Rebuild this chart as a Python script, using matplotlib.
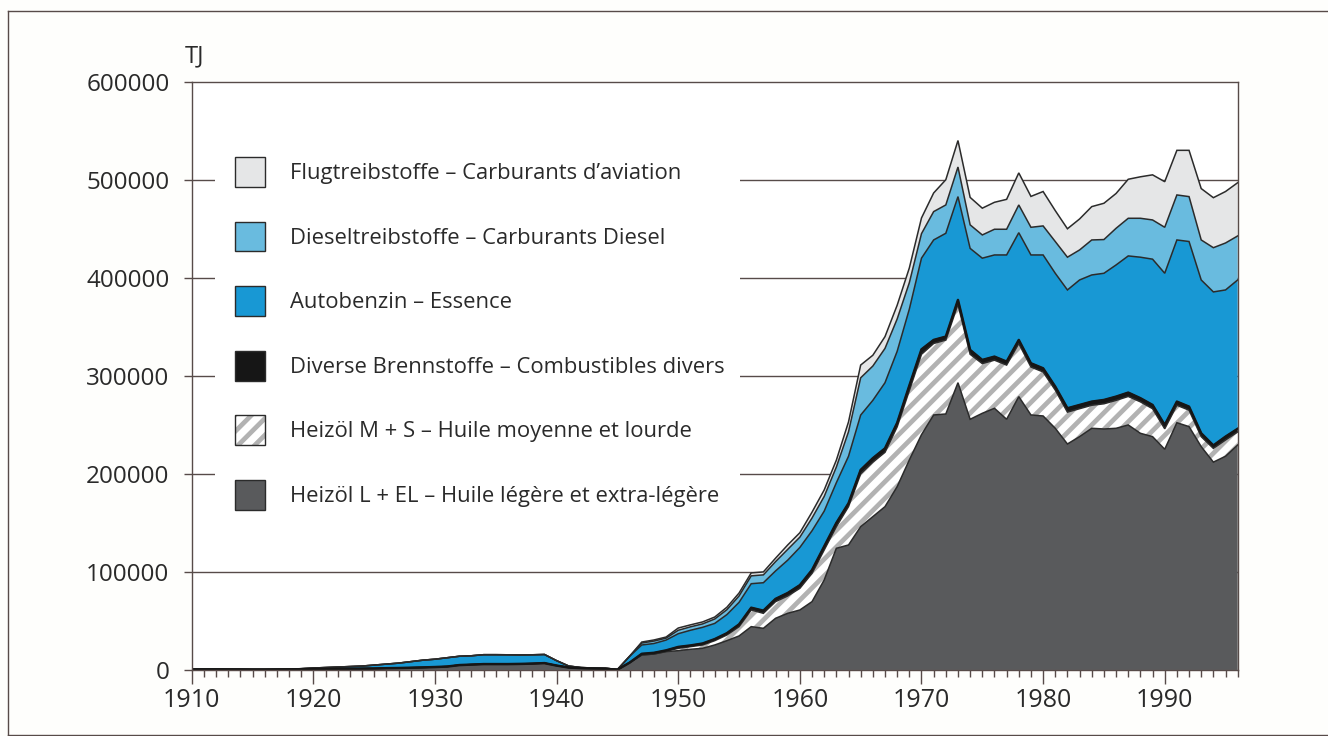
import numpy as np
import matplotlib
matplotlib.use("Agg")
import matplotlib.pyplot as plt
from matplotlib.patches import Patch, Rectangle
from matplotlib.lines import Line2D

plt.rcParams['font.family'] = ['Open Sans', 'DejaVu Sans']
plt.rcParams['hatch.linewidth'] = 3.4

years = list(range(1910, 1997))

heizoel_l_el = [500, 600, 600, 500, 500, 400, 400, 500, 600, 800,
                1000, 1100, 1200, 1300, 1400, 1500, 1800, 2000, 2300, 2600,
                3000, 3500, 5000, 5500, 6000, 6000, 6000, 6200, 6500, 7000,
                4500, 2500, 1800, 1500, 1200, 300, 7500, 15300, 16300, 18700,
                19700, 21100, 22100, 25500, 29900, 34700, 44200, 42500, 52700, 57800,
                61200, 69700, 91800, 124100, 127500, 146200, 156400, 166600, 187000, 214200,
                240000, 260100, 261100, 293000, 255700, 261800, 266900, 255700, 278800, 260100,
                259100, 246500, 230500, 238000, 246500, 245800, 246500, 249900, 241400, 238000,
                225100, 252200, 248200, 227800, 212000, 218000, 229500]
heizoel_m_s = [0] * 39 + [300,
               2400, 2700, 3400, 4400, 5800, 9500, 17000, 15300, 17000, 17700,
               22100, 28900, 30600, 22100, 39100, 53800, 55600, 55400, 61000, 70800,
               82000, 72900, 75400, 80000, 66300, 50700, 49100, 55300, 54200, 48900,
               44900, 39000, 32500, 28500, 23500, 25700, 28500, 29100, 32100, 28500,
               20900, 17800, 16800, 10200, 14000, 16600, 13300]
diverse = [0] * 37 + [1200, 1200, 1000,
           1400, 1200, 1500, 1600, 1800, 2300, 2300, 2700, 2800, 3000,
           3200, 3400, 3600, 3800, 3400, 4000, 4000, 4000, 4000, 5000,
           5000, 3600, 3500, 4400, 4400, 3700, 3600, 3500, 3600, 3800,
           3700, 3500, 3900, 3800, 3700, 3900, 3800, 3900, 3700, 3800,
           3900, 3700, 3600, 3400, 3000, 3400, 3200]
autobenzin = [300, 300, 300, 300, 200, 200, 200, 200, 300, 500,
              1000, 1400, 1800, 2200, 2600, 3500, 4200, 5000, 6200, 7400,
              8000, 9000, 9000, 9000, 9600, 9600, 9500, 9100, 9000, 8800,
              5000, 1500, 700, 500, 600, 200, 6500, 9000, 9500, 10500,
              13500, 15500, 16500, 16000, 19000, 22500, 24500, 28500, 28500, 33500,
              38500, 40000, 36000, 41000, 48000, 56000, 59000, 67000, 73000, 78000,
              93000, 102000, 105400, 105400, 103600, 103800, 103700, 108800, 109400, 110500,
              115600, 115600, 120700, 127500, 129200, 129200, 134300, 139400, 143800, 148700,
              154700, 164900, 168400, 156400, 156600, 149600, 151800]
diesel = [0] * 37 + [2000, 2500, 2000,
          3500, 3500, 3500, 4500, 5000, 6500, 8000, 8000, 9500, 11000,
          10500, 13000, 15000, 16000, 25000, 38000, 35000, 35000, 33000, 27000,
          25000, 28900, 28900, 30200, 24000, 23700, 26200, 26200, 28300, 28200,
          29600, 32400, 33400, 30600, 35700, 34400, 37400, 38400, 39700, 40000,
          46900, 45900, 45800, 40800, 45100, 47900, 44900]
flug = [0] * 37 + [1000, 1100, 1100,
        2300, 2000, 2000, 2000, 2500, 3000, 3000, 3000, 3500, 4500,
        4500, 6000, 6600, 7000, 10000, 13000, 11000, 12000, 14000, 15000,
        16000, 19000, 25700, 27000, 28000, 27300, 27500, 30500, 32700, 31500,
        35100, 31500, 29000, 31600, 34000, 37000, 35500, 39800, 42300, 46000,
        46500, 45500, 47200, 52400, 51000, 52500, 54300]

labels = ["Heizöl L + EL – Huile légère et extra-légère",
          "Heizöl M + S – Huile moyenne et lourde",
          "Diverse Brennstoffe – Combustibles divers",
          "Autobenzin – Essence",
          "Dieseltreibstoffe – Carburants Diesel",
          "Flugtreibstoffe – Carburants d’aviation"]

c_grey = '#595a5c'
c_black = '#161616'
c_benz = '#1898d4'
c_dies = '#69bbdf'
c_flug = '#e5e6e7'
c_hatch = '#b2b2b2'
c_line = '#2b2b2b'
c_axis = '#574b49'
c_text = '#2a2a2a'

x = np.array(years)
series = [heizoel_l_el, heizoel_m_s, diverse, autobenzin, diesel, flug]
cum = np.cumsum(np.array(series, dtype=float), axis=0)
zero = np.zeros_like(x, dtype=float)

fig = plt.figure(figsize=(13.28, 7.36), dpi=100)
fig.patch.set_facecolor('#fefefc')
ax = fig.add_axes([0.1444, 0.0897, 0.932 - 0.1444, 0.889 - 0.0897])
ax.set_facecolor('white')

# grid lines behind data
for v in range(100000, 600000, 100000):
    ax.axhline(v, color=c_axis, lw=1.0, zorder=1)

# white box behind legend (masks grid)
ax.add_patch(Rectangle((0.0223, 0.2635), 0.524 - 0.0223, 0.901 - 0.2635,
                       transform=ax.transAxes, facecolor='white', edgecolor='none', zorder=1.5))

ax.fill_between(x, zero, cum[0], facecolor=c_grey, lw=0, zorder=2)
ax.fill_between(x, cum[0], cum[1], facecolor='white', edgecolor=c_hatch, hatch='//', lw=0, zorder=2)
ax.fill_between(x, cum[1], cum[2], facecolor=c_black, lw=0, zorder=2)
ax.fill_between(x, cum[2], cum[3], facecolor=c_benz, lw=0, zorder=2)
ax.fill_between(x, cum[3], cum[4], facecolor=c_dies, lw=0, zorder=2)
ax.fill_between(x, cum[4], cum[5], facecolor=c_flug, lw=0, zorder=2)

for i in range(6):
    ax.plot(x, cum[i], color=c_line, lw=1.1, zorder=3, solid_joinstyle='miter')
ax.plot(x, cum[2], color=c_black, lw=1.8, zorder=3)

ax.set_xlim(1910, 1996)
ax.set_ylim(0, 600000)
ax.set_xticks(range(1910, 1991, 10))
ax.set_xticks(range(1910, 1997), minor=True)
ax.set_yticks(range(0, 600001, 100000))
ax.set_yticklabels([str(v) for v in range(0, 600001, 100000)])
ax.tick_params(axis='x', which='major', direction='out', length=10, width=1, color=c_axis,
               labelsize=18, pad=3, labelcolor=c_text)
ax.tick_params(axis='x', which='minor', direction='out', length=5, width=1, color=c_axis)
ax.tick_params(axis='y', which='major', direction='out', length=6, width=1, color=c_axis,
               labelsize=17.5, pad=10, labelcolor=c_text)
for s in ax.spines.values():
    s.set_color(c_axis)
    s.set_linewidth(1.0)
    s.set_zorder(4)

ax.text(-0.0064, 1.0437, "TJ", transform=ax.transAxes, fontsize=17, color=c_text,
        ha='left', va='center')

# legend
h_grey = Patch(facecolor=c_grey, edgecolor=c_line, lw=1)
h_ms = (Patch(facecolor='white', edgecolor=c_hatch, hatch='//', lw=0),
        Patch(facecolor='none', edgecolor=c_line, lw=1))
h_div = Patch(facecolor=c_black, edgecolor=c_line, lw=1)
h_benz = Patch(facecolor=c_benz, edgecolor=c_line, lw=1)
h_dies = Patch(facecolor=c_dies, edgecolor=c_line, lw=1)
h_flug = Patch(facecolor=c_flug, edgecolor=c_line, lw=1)
handles = [h_flug, h_dies, h_benz, h_div, h_ms, h_grey]
leg = ax.legend(handles, labels[::-1], loc='upper left', bbox_to_anchor=(0.0414, 0.872),
                frameon=False, fontsize=15.8, handlelength=1.37, handleheight=1.72,
                handletextpad=1.15, labelspacing=1.58, borderpad=0, borderaxespad=0)
for t in leg.get_texts():
    t.set_color(c_text)
leg.set_zorder(5)

# outer frame
fig.add_artist(Line2D([0.006, 0.006], [0.0014, 0.9855], color=c_axis, lw=1))
fig.add_artist(Line2D([0.006, 1.0], [0.9855, 0.9855], color=c_axis, lw=1))
fig.add_artist(Line2D([0.006, 1.0], [0.0014, 0.0014], color=c_axis, lw=1))

fig.savefig("out.png", dpi=100, facecolor=fig.get_facecolor())
